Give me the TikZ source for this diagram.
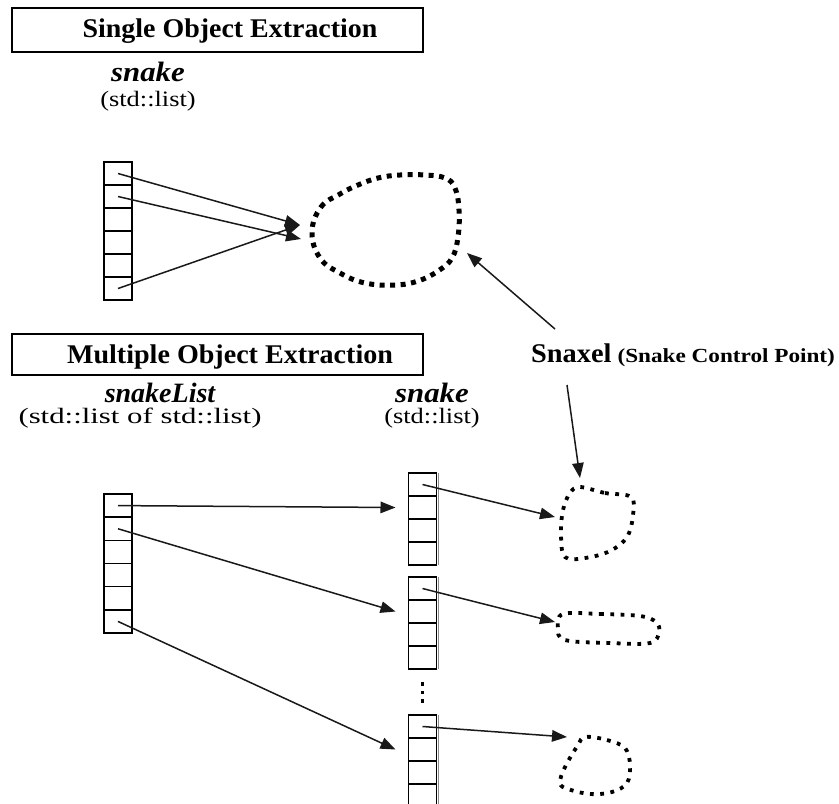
\documentclass[tikz,border=0pt]{standalone}
\usepackage{fontspec}
\setmainfont{Liberation Serif}
\usetikzlibrary{arrows.meta}

% horizontal stretch of a label
\newcommand{\stretchx}[2]{\scalebox{#1}[1]{#2}}

\tikzset{
  cell/.style={draw=black, line width=1.3pt, minimum width=28pt, minimum height=23pt,
               inner sep=0pt, outer sep=0pt},
  ptr/.style={draw=black!90, line width=1.5pt, -{Triangle[length=15pt,width=11.5pt]}},
  titlebox/.style={draw=black, line width=1.4pt, minimum width=411pt, inner sep=0pt,
                   outer sep=0pt, anchor=north west},
  titletext/.style={anchor=base, inner sep=0pt, font=\fontsize{27}{30}\selectfont\bfseries},
  varname/.style={anchor=base, inner sep=0pt, font=\fontsize{28}{30}\selectfont\bfseries\itshape},
  typename/.style={anchor=base, inner sep=0pt, font=\fontsize{22}{26}\selectfont},
  bigcontour/.style={line width=5pt, dash pattern=on 5pt off 5.5pt},
  smallcontour/.style={line width=3.8pt, dash pattern=on 3.8pt off 6.5pt},
}

\begin{document}
\begin{tikzpicture}[x=1pt, y=-1pt]
\useasboundingbox (0,0) rectangle (839,804);
\clip (0,0) rectangle (839,804);

% ---------- section titles ----------
\node[titlebox, minimum height=44pt] (box1) at (12,8) {};
\node[titletext] (title1) at (230,37) {\stretchx{1.035}{Single Object Extraction}};
\node[titlebox, minimum height=41pt] (box2) at (12,334) {};
\node[titletext] (title2) at (230,363) {\stretchx{1.04}{Multiple Object Extraction}};

% ---------- single object ----------
\node[varname] (snakeA) at (148,81) {\stretchx{1.1}{snake}};
\node[typename] (snakeAtype) at (148,106) {\stretchx{1.2}{(std::list)}};
\foreach \i in {1,...,6}
  \node[cell] (sa\i) at (118,{162+23*(\i-0.5)}) {};

\coordinate (hitA) at (300,225);
\coordinate (hitB) at (301,239);
\draw[ptr] (sa1.center) -- (hitA);
\draw[ptr] (sa2.center) -- (hitB);
\draw[ptr] (sa6.center) -- (hitA);

\draw[bigcontour] plot[smooth cycle, tension=0.7] coordinates {
  (312,232) (321,207) (340,194) (358,185) (378,178) (400,175) (425,175)
  (445,178) (455,188) (459,210) (458,237) (452,258) (438,271) (418,281)
  (395,285) (365,283) (340,273) (320,258)};

% ---------- snaxel label ----------
\node[anchor=base west, inner sep=0pt] (snaxel) at (531,362)
  {{\fontsize{27}{30}\selectfont\bfseries\stretchx{1.05}{Snaxel}}\hspace{6pt}%
   {\fontsize{20}{24}\selectfont\bfseries\stretchx{1.16}{(Snake Control Point)}}};
\coordinate (snaxUp) at (555,329);
\coordinate (snaxDown) at (567,385);
\coordinate (onBig) at (467,253);
\coordinate (onSmall) at (580,478);
\draw[ptr] (snaxUp) -- (onBig);
\draw[ptr] (snaxDown) -- (onSmall);

% ---------- multiple objects ----------
\node[varname] (listname) at (160,402) {\stretchx{1.0}{snakeList}};
\node[typename] (listtype) at (140,423) {\stretchx{1.4}{(std::list of std::list)}};
\node[varname] (snakeB) at (432,402) {\stretchx{1.1}{snake}};
\node[typename] (snakeBtype) at (432,423) {\stretchx{1.2}{(std::list)}};

\foreach \i in {1,...,6}
  \node[cell] (ml\i) at (118,{494+23.17*(\i-0.5)}) {};

% three inner lists with a grey shadow on their right edge
\foreach \name/\top/\n in {ra/473/4, rb/577/4, rc/715/5}{
  \foreach \i in {1,...,\n}
    \node[cell] (\name\i) at (422.5,{\top+23*(\i-0.5)}) {};
  \draw[black!45, line width=1.8pt] (438.5,\top) -- (438.5,{\top+23*\n});
}

% vertical ellipsis between the second and last inner list
\foreach \yy in {682,690.5,699}
  \fill (420.5,\yy) rectangle (424,\yy+3.5);

\draw[ptr] (ml1.center) -- ([xshift=-13pt]ra2.west);
\draw[ptr] (ml2.center) -- ([xshift=-13pt]rb2.west);
\draw[ptr] (ml6.center) -- ([xshift=-13pt]rc2.west);

\coordinate (hitC) at (555,517);
\coordinate (hitD) at (555,622);
\coordinate (hitE) at (567,737);
\draw[ptr] (ra1.center) -- (hitC);
\draw[ptr] (rb1.center) -- (hitD);
\draw[ptr] (rc1.center) -- (hitE);

\draw[smallcontour] plot[smooth cycle, tension=0.6] coordinates {
  (580,487) (605,493) (631,497) (633,515) (627,537) (610,551) (585,558)
  (565,557) (561,535) (563,510) (570,493)};
\draw[smallcontour] plot[smooth cycle, tension=0.6] coordinates {
  (563,614) (600,614) (640,616) (656,622) (659,632) (650,643) (610,643)
  (565,640) (558,628)};
\draw[smallcontour] plot[smooth cycle, tension=0.6] coordinates {
  (585,737) (607,740) (625,748) (630,765) (627,783) (612,792) (590,794)
  (568,789) (560,783) (565,767) (578,745)};
\end{tikzpicture}
\end{document}
